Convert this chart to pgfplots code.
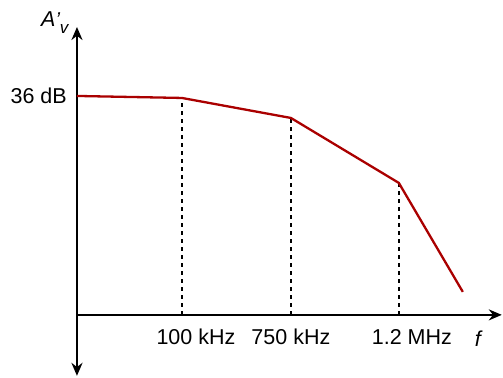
\documentclass[border=0pt]{standalone}
\usepackage{pgfplots}
\pgfplotsset{compat=1.18}
\usepackage{fontspec}
\setmainfont{Liberation Sans}
\usetikzlibrary{arrows.meta}
\definecolor{curve}{RGB}{170,0,0}
\begin{document}
\begin{tikzpicture}
\begin{axis}[
  x=1pt, y=1pt,
  xmin=-77, xmax=426, ymin=-62, ymax=315,
  axis lines=none,
  clip=false,
  font=\fontsize{21.5}{25}\selectfont,
]
\path (rel axis cs:0,0) (rel axis cs:1,1);
% axes
\addplot[black, line width=2.4pt, -{Stealth[length=13pt,width=11pt]}] coordinates {(0,0) (425,0)};
\addplot[black, line width=2.4pt, {Stealth[length=13pt,width=11pt]}-{Stealth[length=13pt,width=11pt]}] coordinates {(0,-61) (0,288)};
% dashed drops
\addplot[ycomb, black, line width=1.9pt, dash pattern=on 4pt off 4pt] coordinates {(105,217) (214,197) (322,132)};
% response curve
\addplot[curve, line width=2.3pt] coordinates {(0,219) (105,217) (214,197) (322,132) (386,23)};
% labels
\node[anchor=east, inner sep=0pt] at (axis cs:-10,219) {36 dB};
\node at (axis cs:119,-22) {100 kHz};
\node at (axis cs:214,-22) {750 kHz};
\node at (axis cs:335,-22) {1.2 MHz};
\node at (axis cs:401,-24) {\itshape f};
\node[anchor=base west, inner sep=0pt] at (axis cs:-36,288) {\itshape A{\fontsize{20}{20}\selectfont'}\raisebox{-0.28em}{\fontsize{17}{17}\selectfont\itshape v}};
\end{axis}
\end{tikzpicture}
\end{document}
